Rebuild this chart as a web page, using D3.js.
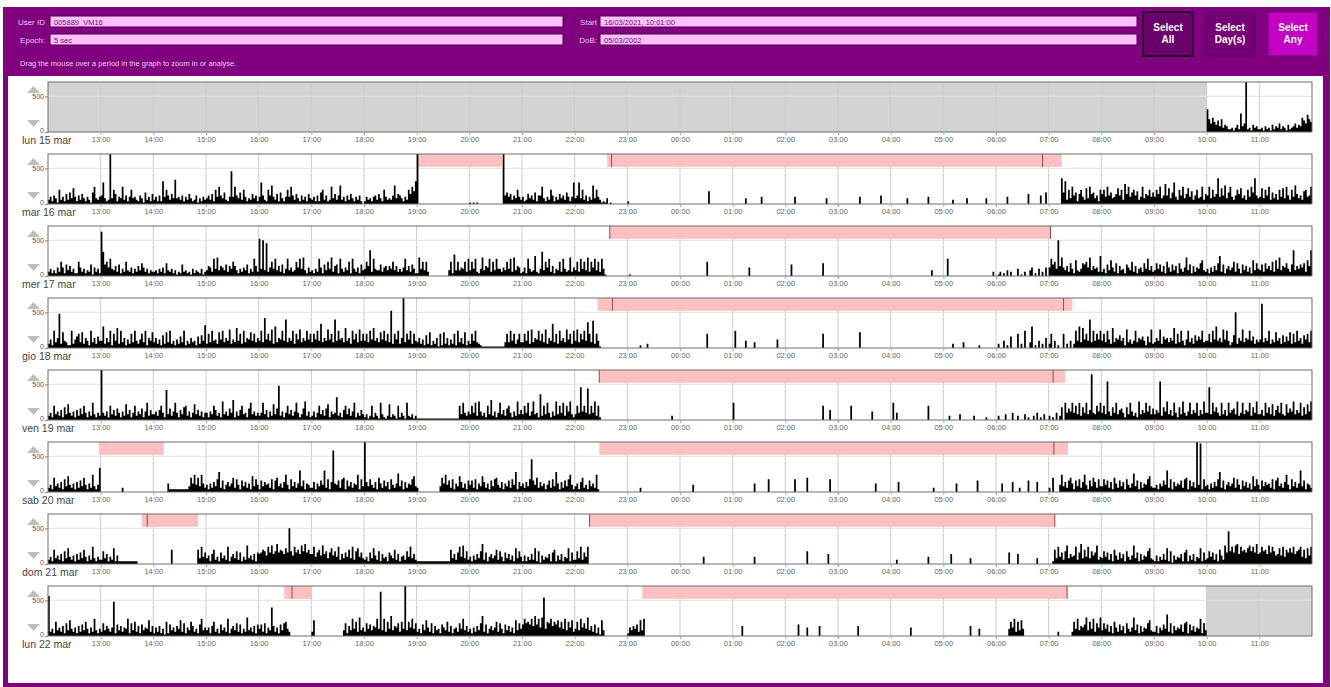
<!DOCTYPE html>
<html>
<head>
<meta charset="utf-8">
<script src="https://cdn.jsdelivr.net/npm/d3@7"></script>
<style>
html, body { margin: 0; padding: 0; background: #fff; overflow: hidden; }
svg { display: block; font-family: "Liberation Sans", Arial, sans-serif; }
</style>
</head>
<body>
<svg id="chart" width="1331" height="687"></svg>
<script>
// header fields
const fieldLabels = ["User ID", "Epoch:", "Start", "DoB:"];
const fieldValues = ["005889_VM16", "5 sec", "16/03/2021, 10:01:00", "05/03/2002"];
const buttonLabels = [["Select", "All"], ["Select", "Day(s)"], ["Select", "Any"]];
const hintText = "Drag the mouse over a period in the graph to zoom in or analyse.";

// one row per day, each row runs 12:00 -> 12:00
const dayLabels = ["lun 15 mar", "mar 16 mar", "mer 17 mar", "gio 18 mar", "ven 19 mar", "sab 20 mar", "dom 21 mar", "lun 22 mar"];
const hourTicks = ["13:00", "14:00", "15:00", "16:00", "17:00", "18:00", "19:00", "20:00", "21:00", "22:00", "23:00",
  "00:00", "01:00", "02:00", "03:00", "04:00", "05:00", "06:00", "07:00", "08:00", "09:00", "10:00", "11:00"];

// activity counts, one string per hour (12:00 first), 30 bins of 2 min,
// each char = count / 20 in base 36 ("a" = 200, "z" = 700); short strings end in zeros; null = no data
const act15 = [null, null, null, null, null, null, null, null, null, null, null,
  null, null, null, null, null, null, null, null, null, null, null,
  "g96a758493542231352d46z2315342", "231423152436243152346354a86c97"];
const act16 = ["352641a3527384b52637425318c435", "6f423z4a7254c3625a453264183527", "35262g5a6374h45362537423614253",
  "46372a5c648325n5c6483a52437462", "5f632a6d53728425a5c63742635274", "352628a3623c4736d352637425362",
  "25342563742a53436d4764253a7c9g", "z", "1010100000000000000z6857364a53",
  "52374638266c4253a625374638525f", "46f4a36253d4a531214010", "2",
  "00000000000000009", "0000000400000000500", "000005000000000000000004",
  "000000000000500000000000600", "0000000004000000000005", "0000030000000400000000004",
  "00000050000000000070000006008", "0000000i8g3a4c6827a53b4c78462a", "7a5c68457b6a3e7c58a6935c476a58",
  "5a7c46e6b48f53a6c47b5936a45c37", "6c4a57i5b6d48c536a7b463a5c8i64", "5b4a6c38473a5b4c63a5d74639a56c"];
const act17 = ["3524263a628473522a635243816352", "vh8a6c54738253a4362537496352435", "342536294352413283423152432513",
  "4763c5d47648375a74253648253c73", "q5p4n36a5c473825c4634a6c5d4263", "4253c6284a5d3782c5364a2c536284",
  "5a7i3c5448367475a473536c473852", "2d5a4a3000000000004a2f4a465a3c", "4a5c325d476c3a4c55364a5c3d4762",
  "362c534e325h4a6c37254a3c534d36", "4a3c5a4d3a6c4a3c51", "01",
  "000000000000000a", "0000000006", "0008000000000000000009",
  "0", "000000000000000000000004", "00c00000000000000000000000003",
  "013020403000501030046020503060", "6c8a5p7d6473952b43598a6d47563e", "35284b63927452864a37256395c473",
  "4958372a6384729536d48273659b43", "5263749e3825746a3952847362b495", "4839574a3b5d4769538i4758693b7i"];
const act18 = ["362c47o3b5422c368a4b3752c47385", "5f374c2a5e3c47263a4c536a4c275b", "4736293b4c3526384c25374528395g",
  "3a4c563b6c475d364e5a3c476b5a47", "5c4l6a5d3f476c5k475c3a6d475c6a", "4a6c5h475d6a4k5c674e573c6a4d5a",
  "5a4c6e574b6c5a4q3a6c37z4a6c3a5", "4736293b25371a2b37263a2c473b25", "3a5c43211111111111114a4c5a36a4",
  "4a5c3d476c5a4d375h4a3c574d6a3c", "5d4a6c5ia4j3a51", "0000000200030",
  "000000000000000a", "0c000005000040000000000006", "000000000000000000000a",
  "000000000000b", "0", "000003000004000000002",
  "030050208000a030c004f020503070", "3a050200a030503c5f4e6a5k4c5a6c", "5a4c63e4769572d4635c47685284d3",
  "475d3867475e3a4c526c4739586c45", "5a4c6f574d6c5249p375d476c58364", "6v475c364b5739485b3a4c57396a4c"];
const act19 = ["352a4637294b53627384a5263c4253", "z5362a47385263b4725a364826c374", "4637a52l4836c52749a3625b473625",
  "5264a7352d46385e2637a4528c4635", "35c47263b48o3625a4736c5248d362", "3625a4738b2645g3527a4836c25374",
  "2413a2531c4213b2431a2531c32413", "111111111111111111111111a4c536", "4a5c3d6352a4e3625c4738a5263d47",
  "4a5c36d452i3a4c5263d4a5c3a6d42", "4a5n6a5m4a5d3a2", "00000000000000000000000003",
  "0", "c", "000000000000000000000a0007",
  "0000000a0000000000060", "0c0500000000000000000a", "000300000400000003000000200",
  "030004000500300040200305020400", "302050390c586c5a4c395c47w54a6c", "5a4r6395c4785294c6352d475c6a48",
  "475r396d473c5294d536c475c374d5", "5n4c6953c473c5784d35c476c395d4", "473c594b37a5c43b586d475c394b6d"];
const act20 = ["352a4637294b53627384a5263c425h", "00000000000030", "000000006222222222224a6c5a4c63",
  "5263749e3825746a3952847362b495", "2847563928a4637c5294736f482653", "3726485f3927t65839a2847365c294",
  "z7495372a6384729536d48273659b4", "30000000000004a6c5839264b73628", "5839264b7362849a5372648395e274",
  "63749n85a3746258394e6273849c52", "4627a3528463c2", "00000003",
  "000000050", "000000000000600000009", "000009000000a0000000000009",
  "00000000000000000000060", "0000700000000000000000003", "0000000600000000000800",
  "000600000700030000800007", "30a0005c4738a6284937c5284a7394", "4958372a6384729536d48273659b43",
  "3526485f3927465839a28473z5y294", "5263749e3825746a3952847362b495", "2847563928a4637c5294736f482653"];
const act21 = ["352a4637294b53627384a5263c4253", "3947253b2622222222222", "0000000000a00000000000000a4c58",
  "4627a3528463c2574938253d463728", "78a96c8d79e8a97b8p96c8a7d9e8a7", "7c58a6d7948b695c37485a4c39b584",
  "35284b63927452864a37256395c473", "2222222222222222222a4738c5d493", "5263749e3825746a3952847362b495",
  "2625373b2916354728a2637254b283", "394c385c", "0",
  "000000000000050", "0000000000005", "0000000000009000000000007",
  "0", "0003000000000000000005", "0000700000000004",
  "000000080000700000000004", "002a4c5839d4756c38e4a5c4968d35", "4958372a6384729536d48273659b43",
  "2625373b2916354728a2637254b283", "4958372a63d8n9c8de7c9a8bd9c8e7", "8c9a7d8c967b6c5a8b8c79ac5a4b6c"];
const act22 = ["s352a4637294b53627384a5263c425", "3947536o2847365c294a3728465b37", "2637251a2846375b39264a73528c46",
  "4627a3528463c2574938253d463728", "5839264k7362849a53", "3b000000000000000049274c5a3d46",
  "3958476c5v4c3a5e47693a5z4a6c59", "35284b63927452864a37256395c473", "5263749e3825746a3952847362b495",
  "8c9a8c7e8c6dr5a9c7a8b6a5c4a6b3", "5a4c695d4738261b4", "2647583b4c",
  "0", "0000070", "000000080000600000070",
  "0000000000070", "0000000000060", "00000000000000070000500",
  "00000005a6c3a4b500000", "00000300000003a5c4768d4a5c396d", "4958372a6384729536d48273659b43",
  "3726485f3927465839a2847365c294", null, null];
const activity = [act15, act16, act17, act18, act19, act20, act21, act22];

// [row, from, to]
const noData = [[0, "12:00", "10:00"], [7, "10:00", "12:00"]];
const sleepBands = [
  [1, "19:01", "20:37"], [1, "22:37", "07:15"],
  [2, "22:40", "07:02"],
  [3, "22:26", "07:27"],
  [4, "22:28", "07:19"],
  [5, "12:58", "14:12"], [5, "22:28", "07:22"],
  [6, "13:47", "14:51"], [6, "22:17", "07:07"],
  [7, "16:29", "17:00"], [7, "23:17", "07:21"]];
const sleepMarks = [[1, "22:42"], [1, "06:53"], [2, "22:40"], [2, "07:02"], [3, "22:43"], [3, "07:17"],
  [4, "22:28"], [4, "07:05"], [5, "07:06"], [6, "13:53"], [6, "22:17"], [6, "07:07"], [7, "16:38"], [7, "07:21"]];

const BINS = 30;

// hours since 12:00
function offset(str, isEnd) {
  const [h, m] = str.split(":").map(Number);
  const o = ((h - 12 + 24) % 24) + m / 60;
  return (isEnd && o === 0) ? 24 : o;
}

function toPoints(hours) {
  const pts = [];
  hours.forEach((s, h) => {
    if (s === null) { pts.push({ t: h, v: null }); return; }
    const str = s.padEnd(BINS, "0").slice(0, BINS);
    for (let b = 0; b < BINS; b++) pts.push({ t: h + b / BINS, v: parseInt(str[b], 36) * 20 });
    if (h === 23 || hours[h + 1] === null) pts.push({ t: h + 1, v: parseInt(str[BINS - 1], 36) * 20 });
  });
  return pts;
}

const svg = d3.select("#chart");

// purple frame + white panel
svg.append("rect").attr("x", 3).attr("y", 7).attr("width", 1327).attr("height", 680).attr("fill", "#800080");
svg.append("rect").attr("x", 8).attr("y", 76).attr("width", 1315).attr("height", 607).attr("fill", "#fff");

// header inputs
const fields = [
  { lx: 45, x: 50, w: 513, y: 16 }, { lx: 45, x: 50, w: 513, y: 34 },
  { lx: 597, x: 600, w: 537, y: 16 }, { lx: 597, x: 600, w: 537, y: 34 }];
fields.forEach((f, i) => {
  svg.append("text").attr("x", f.lx).attr("y", f.y + 8.5).attr("text-anchor", "end")
    .attr("font-size", 8).attr("fill", "#f0c8f0").text(fieldLabels[i]);
  svg.append("rect").attr("x", f.x).attr("y", f.y).attr("width", f.w).attr("height", 11)
    .attr("fill", "#ffc0ff").attr("stroke", "#4a004a").attr("stroke-width", 1);
  svg.append("text").attr("x", f.x + 4).attr("y", f.y + 8.5)
    .attr("font-size", 7.5).attr("fill", "#800080").text(fieldValues[i]);
});

svg.append("text").attr("x", 20).attr("y", 66).attr("font-size", 7.5).attr("fill", "#f0d0f0").text(hintText);

const btnStyle = [
  { x: 1143, fill: "#6a006a", stroke: "#300030", sw: 2 },
  { x: 1205, fill: "#750075", stroke: "#5a005a", sw: 1 },
  { x: 1268, fill: "#c400c4", stroke: "#6a006a", sw: 1 }];
btnStyle.forEach((b, i) => {
  svg.append("rect").attr("x", b.x).attr("y", 12).attr("width", 50).attr("height", 44)
    .attr("fill", b.fill).attr("stroke", b.stroke).attr("stroke-width", b.sw);
  buttonLabels[i].forEach((t, j) => {
    svg.append("text").attr("x", b.x + 25).attr("y", 31 + j * 12).attr("text-anchor", "middle")
      .attr("font-size", 10).attr("font-weight", "bold").attr("fill", "#fff").text(t);
  });
});

// day rows
const x = d3.scaleLinear().domain([0, 24]).range([48, 1312]);
const plotH = 50;
const y = d3.scaleLinear().domain([0, 700]).range([plotH, 0]);
const area = d3.area()
  .defined(d => d.v !== null)
  .x(d => x(d.t)).y0(y(0)).y1(d => y(d.v))
  .curve(d3.curveStepAfter);

dayLabels.forEach((label, r) => {
  const g = svg.append("g").attr("transform", `translate(0,${82 + r * 72})`);

  g.append("rect").attr("x", x(0)).attr("y", 0).attr("width", x(24) - x(0)).attr("height", plotH).attr("fill", "#fff");

  noData.filter(d => d[0] === r).forEach(d => {
    g.append("rect").attr("x", x(offset(d[1]))).attr("y", 0)
      .attr("width", x(offset(d[2], true)) - x(offset(d[1]))).attr("height", plotH).attr("fill", "#d3d3d3");
  });

  // grid
  g.append("g").selectAll("line").data(d3.range(1, 24)).join("line")
    .attr("x1", d => x(d)).attr("x2", d => x(d)).attr("y1", 0).attr("y2", plotH)
    .attr("stroke", "#cdcdcd").attr("stroke-width", 1);
  g.append("line").attr("x1", x(0)).attr("x2", x(24)).attr("y1", y(500)).attr("y2", y(500))
    .attr("stroke", "#e2e2e2");

  // sleep periods
  sleepBands.filter(d => d[0] === r).forEach(d => {
    const a = offset(d[1]), b = offset(d[2], true);
    g.append("rect").attr("x", x(a)).attr("y", 0).attr("width", x(b) - x(a)).attr("height", y(520))
      .attr("fill", "#ffc0c2");
  });
  sleepMarks.filter(d => d[0] === r).forEach(d => {
    const a = offset(d[1]);
    g.append("line").attr("x1", x(a)).attr("x2", x(a)).attr("y1", 0).attr("y2", y(520))
      .attr("stroke", "#a0404a").attr("stroke-width", 1);
  });

  // activity
  g.append("path").datum(toPoints(activity[r])).attr("d", area).attr("fill", "#000");

  // frame
  g.append("rect").attr("x", x(0)).attr("y", 0).attr("width", x(24) - x(0)).attr("height", plotH)
    .attr("fill", "none").attr("stroke", "#6e6e6e").attr("stroke-width", 1);

  // axes
  const ax = g.append("g").attr("transform", `translate(0,${plotH})`)
    .call(d3.axisBottom(x).tickValues(d3.range(1, 24)).tickFormat((d, i) => hourTicks[i]).tickSize(3).tickPadding(2));
  ax.select(".domain").remove();
  ax.selectAll("text").attr("font-size", 7.5).attr("fill", "#666").attr("font-family", null);
  ax.selectAll("line").attr("stroke", "#aaa");

  const ay = g.append("g").attr("transform", `translate(${x(0)},0)`)
    .call(d3.axisLeft(y).tickValues([0, 500]).tickSize(3).tickPadding(1));
  ay.select(".domain").remove();
  ay.selectAll("text").attr("font-size", 7).attr("fill", "#555").attr("font-family", null);
  ay.selectAll(".tick").filter(d => d === 0).select("text").attr("dy", "0em");
  ay.selectAll("line").attr("stroke", "#888");

  // scroll arrows
  g.append("path").attr("d", "M33.5,4 L40,11 L27,11 Z").attr("fill", "#bdbdbd");
  g.append("path").attr("d", "M27,38 L40,38 L33.5,45 Z").attr("fill", "#bdbdbd");

  g.append("text").attr("x", 22).attr("y", plotH + 12).attr("font-size", 10.5).attr("fill", "#444").text(label);
});
</script>
</body>
</html>
